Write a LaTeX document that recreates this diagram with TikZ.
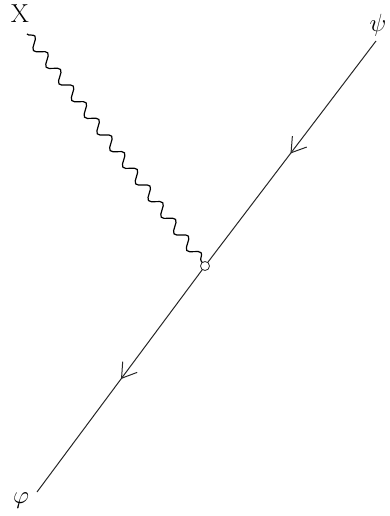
\documentclass[tikz,border=0pt]{standalone}
\usetikzlibrary{decorations.pathmorphing,decorations.markings,arrows.meta}
\begin{document}
\begin{tikzpicture}[x=1pt,y=-1pt,
  fermion/.style={line width=1pt, draw=black!85,
    postaction={decorate},
    decoration={markings, mark=at position 0.5 with {\arrow[line width=1pt]{Straight Barb[length=14pt,width=18pt]}}}},
  photon/.style={line width=1.2pt, draw=black, decorate,
    decoration={snake, segment length=21pt, amplitude=5pt}},
  vtx/.style={circle, draw=black!85, fill=white, line width=0.8pt, inner sep=0pt, minimum size=9pt},
  lbl/.style={font=\fontsize{26}{30}\selectfont, inner sep=0pt}]
\useasboundingbox (0,0) rectangle (390,516);
\coordinate (psi) at (376,41);
\coordinate (phi) at (37,492);
\coordinate (xs) at (27,34);
\coordinate (v) at (205,266);
\draw[photon] (xs) -- (v);
\draw[fermion] (psi) -- (v);
\draw[fermion] (v) -- (phi);
\node[vtx] (vn) at (v) {};
\node[lbl] (lx) at (20,14) {X};
\node[lbl] (lpsi) at (378,25) {$\psi$};
\node[lbl] (lphi) at (21,501) {$\varphi$};
\end{tikzpicture}
\end{document}
